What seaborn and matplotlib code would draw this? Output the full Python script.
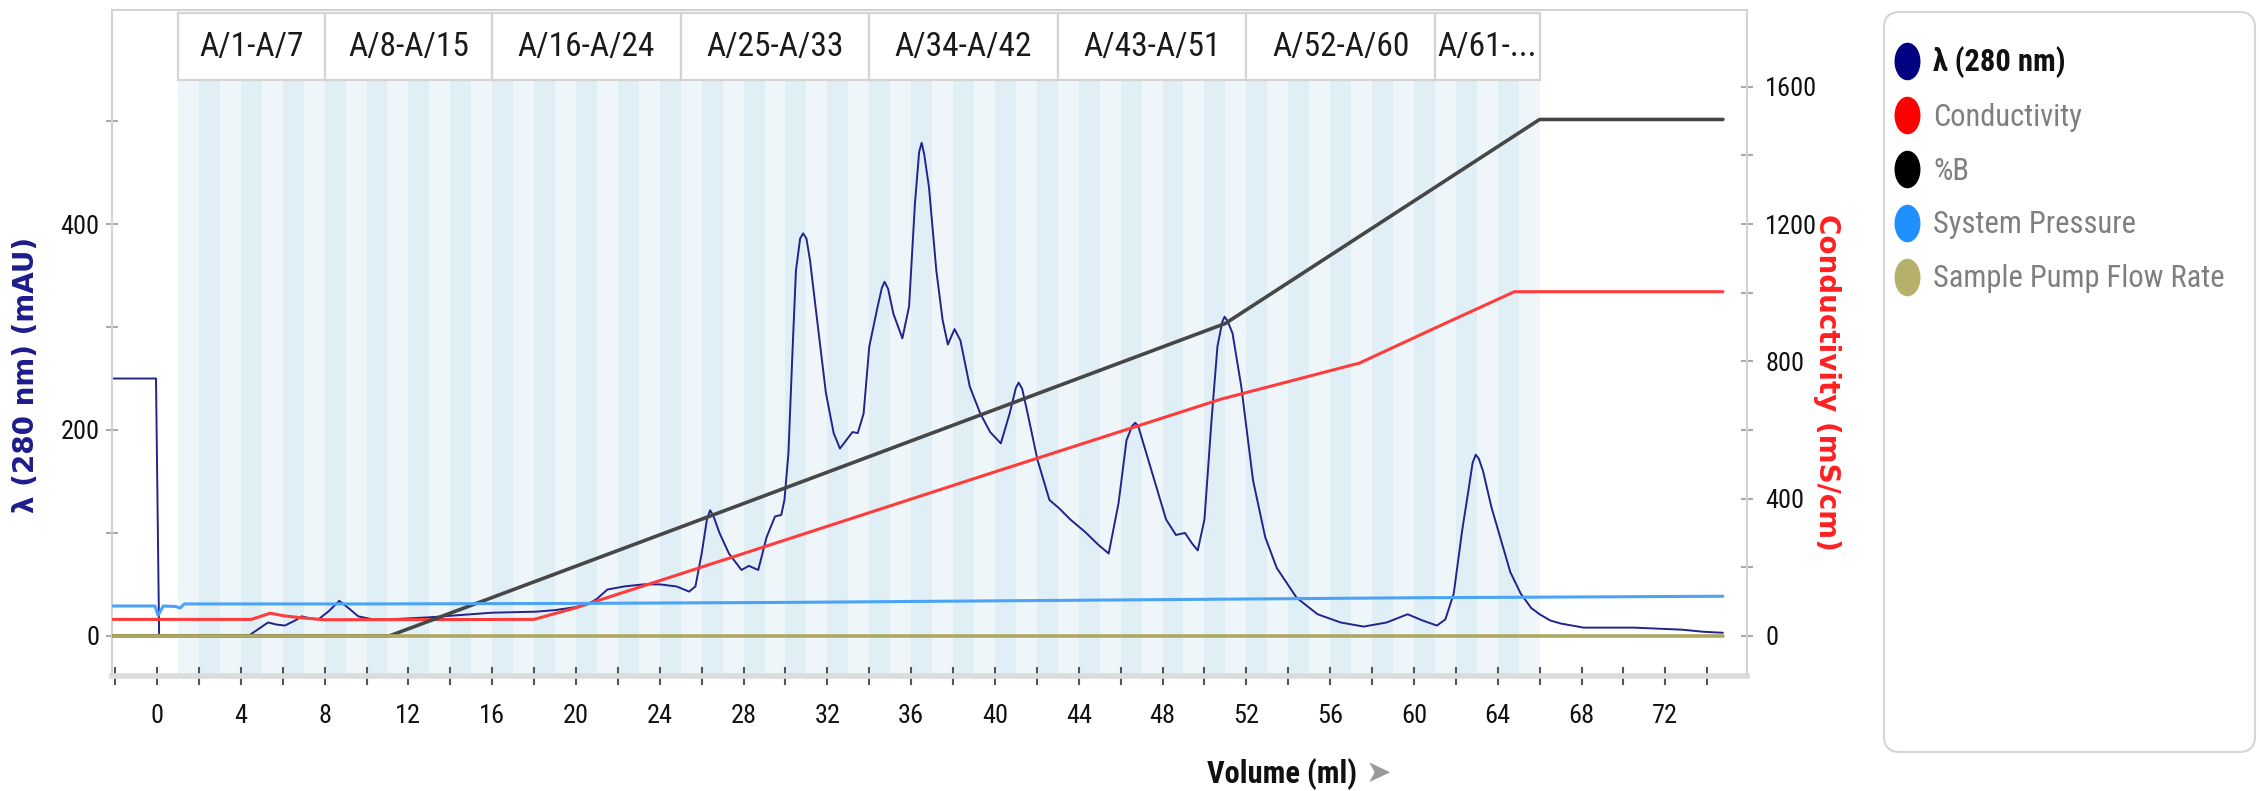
import numpy as np
import pandas as pd
import matplotlib
matplotlib.use("Agg")
import matplotlib.pyplot as plt
import seaborn as sns
from matplotlib import font_manager as fm
from matplotlib.lines import Line2D
from matplotlib.patches import Rectangle, FancyBboxPatch
from matplotlib.path import Path
from matplotlib.transforms import Affine2D, blended_transform_factory

# ---------------- data ----------------
uv_ml = [-2.1, -0.05, 0.1, 4.4, 4.8, 5.3, 5.7, 6.1, 6.6, 6.9, 7.3, 7.7, 8.2, 8.7, 9.2, 9.6,
         10.3, 11.0, 12.0, 13.0, 14.0, 15.0, 16.0, 17.0, 18.1, 19.0, 20.0, 20.6, 21.0, 21.5,
         22.3, 23.2, 24.0, 24.8, 25.4, 25.7, 26.0, 26.25, 26.4, 26.55, 26.85, 27.3, 27.9, 28.25,
         28.7, 29.1, 29.5, 29.8, 29.95, 30.14, 30.33, 30.5, 30.7, 30.84, 31.0, 31.17, 31.55,
         31.93, 32.3, 32.6, 32.9, 33.2, 33.45, 33.73, 34.0, 34.4, 34.6, 34.73, 34.9, 35.15,
         35.58, 35.9, 36.18, 36.38, 36.5, 36.62, 36.85, 37.2, 37.5, 37.75, 38.07, 38.35, 38.8,
         39.3, 39.77, 40.28, 40.7, 41.0, 41.13, 41.3, 41.56, 42.03, 42.6, 43.06, 43.6, 44.3,
         44.96, 45.43, 45.9, 46.28, 46.55, 46.7, 46.85, 47.13, 47.7, 48.17, 48.64, 49.07, 49.4,
         49.68, 50.0, 50.34, 50.62, 50.85, 50.96, 51.1, 51.34, 51.76, 52.32, 52.9, 53.45, 54.4,
         55.4, 56.5, 57.6, 58.7, 59.7, 60.4, 61.1, 61.5, 61.9, 62.3, 62.6, 62.8, 62.95, 63.1,
         63.3, 63.7, 64.1, 64.6, 65.1, 65.6, 66.0, 66.5, 67.0, 68.1, 69.5, 70.5, 71.7, 72.8,
         73.8, 74.75]
uv_mau = [250, 250, 0, 0.5, 6, 13, 11, 10, 15, 19, 17, 16, 24, 34, 26, 19,
          16, 16, 17, 18, 19.5, 21, 22.5, 23, 23.5, 25, 28, 31, 36, 45,
          48, 50, 50, 48, 43, 48, 80, 113, 122, 117, 100, 80, 64, 68,
          64, 96, 116, 117.5, 132, 177, 274, 355, 386, 391, 386, 365, 300,
          236, 197, 182, 190, 198, 197, 216, 281, 320, 338, 344, 337, 313,
          289, 320, 420, 470, 479, 468, 436, 355, 307, 283, 298, 287, 242,
          216, 198, 187, 216, 241, 246, 240, 216, 171, 132, 124, 113, 101,
          88, 80, 129, 190, 204, 207, 203, 184, 145, 113, 98, 100, 90,
          83, 113, 210, 281, 305, 310, 306, 294, 242, 151, 96, 66, 37,
          21, 13, 9, 13, 21, 15, 10, 16, 41, 102, 141, 168, 176, 172,
          160, 125, 97, 62, 41, 27, 21, 15, 12, 8, 8, 8, 7, 6,
          4, 3]

cond_ml = [-2.1, 4.5, 5.4, 6.1, 7.0, 8.0, 18.0, 20.0, 28.0, 40.0, 50.8, 57.4, 61.5, 64.8, 74.75]
cond_mscm = [48, 48, 66, 58, 52, 47, 48, 82, 240, 478, 690, 795, 911, 1003, 1003]

pctb_ml = [-2.1, 11.1, 51.0, 66.0, 74.75]
pctb = [0, 0, 60.5, 100, 100]

pres_ml = [-2.1, -0.1, 0.05, 0.3, 0.9, 1.1, 1.3, 10.0, 20.0, 30.0, 40.0, 50.0, 60.0, 70.0, 74.75]
pres_mpa = [0.29, 0.29, 0.20, 0.29, 0.285, 0.27, 0.31, 0.31, 0.315, 0.325, 0.34, 0.355, 0.37, 0.38, 0.385]

flow_ml = [-2.1, 74.75]
flow_rate = [0, 0]

frac_group_labels = ["A/1-A/7", "A/8-A/15", "A/16-A/24", "A/25-A/33",
                     "A/34-A/42", "A/43-A/51", "A/52-A/60", "A/61-..."]
frac_group_start_ml = [1, 8, 16, 25, 34, 43, 52, 61]
frac_end_ml = 66
frac_first_ml = 1.0
frac_size_ml = 1.0
n_fractions = 65

series_names = ["λ (280 nm)", "Conductivity", "%B", "System Pressure", "Sample Pump Flow Rate"]
series_colors = ["#000080", "#FF0000", "#000000", "#1E90FF", "#B5B16A"]

x_ticks = list(range(-2, 75, 2))
left_major = [0, 200, 400]
left_minor = [100, 300, 500]
right_major = [0, 400, 800, 1200, 1600]
right_minor = [200, 600, 1000, 1400]

# ---------------- style ----------------
sns.set_theme(style="white")
names = {f.name for f in fm.fontManager.ttflist}
narrow = None
for cand in ["Liberation Sans Narrow", "Roboto Condensed", "Open Sans Condensed"]:
    if cand in names:
        narrow = cand
        break
if narrow is None:
    conds = [f.name for f in fm.fontManager.ttflist
             if str(f.stretch) in ("condensed", "semi-condensed", "extra-condensed")]
    narrow = conds[0] if conds else None
is_narrow = narrow is not None
base_font = narrow if is_narrow else "Roboto"
k = 1.0 if is_narrow else 0.85
plt.rcParams["font.family"] = [base_font, "DejaVu Sans"]

W, H = 2259, 791
fig = plt.figure(figsize=(W / 100, H / 100), dpi=100)
fig.patch.set_facecolor("white")
ax = fig.add_axes([112 / W, 1 - 676 / H, (1747 - 112) / W, (676 - 10) / H])

LEFT_LIM = (-39, 608)
ax.set_xlim(-2.15, 75.9)
ax.set_ylim(*LEFT_LIM)

# fraction stripes
light, dark = "#EEF6FA", "#E0EFF5"
STRIPE_TOP = 0.895
for i in range(n_fractions):
    x0 = frac_first_ml + i * frac_size_ml
    ax.axvspan(x0, x0 + frac_size_ml, ymin=0, ymax=STRIPE_TOP,
               color=light if i % 2 == 0 else dark, lw=0, zorder=0)

# fraction header boxes
trans = blended_transform_factory(ax.transData, ax.transAxes)
ends = frac_group_start_ml[1:] + [frac_end_ml]
for lab, s, e in zip(frac_group_labels, frac_group_start_ml, ends):
    ax.add_patch(Rectangle((s, STRIPE_TOP), e - s, 0.9955 - STRIPE_TOP, transform=trans,
                           facecolor="white", edgecolor="#D4D4D4", lw=1.6,
                           clip_on=False, zorder=3))
    ax.text((s + e) / 2, 0.944, lab, transform=trans, ha="center", va="center",
            fontsize=24 * k, color="#1A1A1A", zorder=4)

# UV trace
uv_df = pd.DataFrame({"ml": uv_ml, "mAU": uv_mau})
sns.lineplot(data=uv_df, x="ml", y="mAU", ax=ax, color="#23238C", lw=1.4,
             legend=False, zorder=2)

# conductivity on right axis
ax2 = ax.twinx()
ax2.set_ylim(LEFT_LIM[0] * 3, LEFT_LIM[1] * 3)
cond_df = pd.DataFrame({"ml": cond_ml, "mScm": cond_mscm})
sns.lineplot(data=cond_df, x="ml", y="mScm", ax=ax2, color="#FF3B3B", lw=2.2, legend=False)

# %B on hidden axis (100 % at 1505 on conductivity axis)
ax3 = ax.twinx()
ax3.set_ylim(LEFT_LIM[0] * 3 / 15.05, LEFT_LIM[1] * 3 / 15.05)
b_df = pd.DataFrame({"ml": pctb_ml, "B": pctb})
sns.lineplot(data=b_df, x="ml", y="B", ax=ax3, color="#474747", lw=2.6, legend=False)
ax3.set_axis_off()

# pressure and sample pump flow on hidden axis
ax4 = ax.twinx()
ax4.set_ylim(LEFT_LIM[0] / 100, LEFT_LIM[1] / 100)
p_df = pd.DataFrame({"ml": pres_ml, "MPa": pres_mpa})
sns.lineplot(data=p_df, x="ml", y="MPa", ax=ax4, color="#4AA3F5", lw=2.2, legend=False)
f_df = pd.DataFrame({"ml": flow_ml, "flow": flow_rate})
sns.lineplot(data=f_df, x="ml", y="flow", ax=ax4, color="#ADA862", lw=2.6, legend=False)
ax4.set_axis_off()

for a in (ax, ax2, ax3, ax4):
    a.set_xlim(-2.15, 75.9)

# spines
for side in ["left", "top"]:
    ax.spines[side].set_color("#D3D3D3")
    ax.spines[side].set_linewidth(1.5)
ax.spines["right"].set_visible(False)
ax.spines["bottom"].set_color("#DCDCDC")
ax.spines["bottom"].set_linewidth(4)
for side in ["left", "top", "bottom"]:
    ax2.spines[side].set_visible(False)
ax2.spines["right"].set_color("#D3D3D3")
ax2.spines["right"].set_linewidth(1.5)

# ticks
ax.set_xticks(x_ticks)
ax.set_xticklabels([str(v) if v % 4 == 0 and v >= 0 else "" for v in x_ticks])
ax.tick_params(axis="x", which="both", direction="inout", length=13, width=1.5,
               color="#555555", pad=14, labelsize=19 * k, labelcolor="#111111", bottom=True)
ax.set_yticks(left_major)
ax.set_yticks(left_minor, minor=True)
ax.tick_params(axis="y", which="both", direction="inout", length=8, width=1.5,
               color="#AAAAAA", pad=5, labelsize=19 * k, labelcolor="#111111", left=True)
ax2.set_yticks(right_major)
ax2.set_yticks(right_minor, minor=True)
ax2.tick_params(axis="y", which="both", direction="inout", length=8, width=1.5,
                color="#AAAAAA", pad=9, labelsize=19 * k, labelcolor="#111111", right=True)

# axis labels
ax.set_ylabel("λ (280 nm) (mAU)", color="#1C1C8C", fontweight="bold", fontsize=20,
              family="DejaVu Sans")
ax.yaxis.set_label_coords(-0.0526, 0.452)
ax.yaxis.label.set_va("center")
ax2.set_ylabel("Conductivity (mS/cm)", rotation=270, color="#FF2020", fontweight="bold",
               fontsize=20, family="DejaVu Sans")
ax2.yaxis.set_label_coords(1.049, 0.441)
ax2.yaxis.label.set_va("center")
ax.set_xlabel("Volume (ml)", fontweight="bold", fontsize=22 * k, color="#111111")
ax.xaxis.set_label_coords(0.7156, -0.147)
ax.xaxis.label.set_va("center")
fig.text(1378 / W, 1 - 773 / H, "➤", color="#9A9A9A", fontsize=22, ha="center",
         va="center", family="DejaVu Sans")

# legend panel
panel = FancyBboxPatch((1884 / W, 1 - 752 / H), (2255 - 1884) / W, (752 - 12) / H,
                       boxstyle="round,pad=0,rounding_size=0.007", mutation_aspect=W / H,
                       transform=fig.transFigure, facecolor="white", edgecolor="#D5D5D5",
                       lw=1.5)
fig.add_artist(panel)
ell = Affine2D().scale(0.68, 1.0).transform_path(Path.unit_circle())
handles = [Line2D([], [], ls="", marker=ell, markersize=26, markerfacecolor=c,
                  markeredgecolor=c) for c in series_colors]
leg_fs = 18.6 if not is_narrow else 22
leg = fig.legend(handles, series_names, loc="upper left", bbox_to_anchor=(0.8366, 0.9415),
                 frameon=False, fontsize=leg_fs, handlelength=1.15, handletextpad=0.27,
                 labelspacing=0.81, borderaxespad=0, borderpad=0)
for i, t in enumerate(leg.get_texts()):
    if i == 0:
        t.set_color("#111111")
        t.set_fontweight("bold")
    else:
        t.set_color("#7F7F7F")

fig.savefig("out.png", dpi=100, facecolor="white")
